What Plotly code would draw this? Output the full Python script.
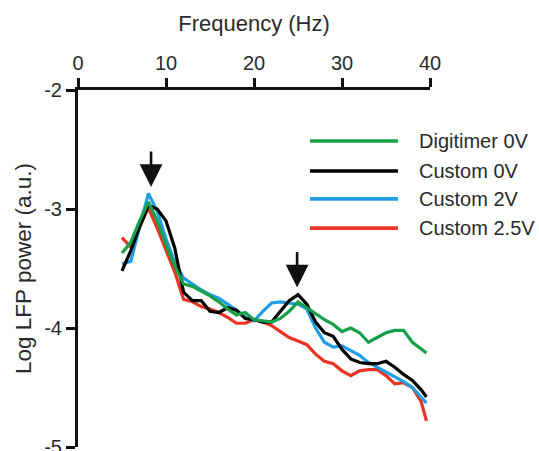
import plotly.graph_objects as go

freq = [5, 6, 7, 8, 9, 10, 11, 12, 13, 14, 15, 16, 17, 18, 19, 20, 21, 22, 23, 24,
        25, 26, 27, 28, 29, 30, 31, 32, 33, 34, 35, 36, 37, 38, 39, 39.6]

digitimer_0v = [-3.37, -3.28, -3.10, -2.94, -3.10, -3.30, -3.48, -3.63, -3.65, -3.69,
                -3.73, -3.78, -3.84, -3.89, -3.87, -3.93, -3.94, -3.95, -3.92, -3.86,
                -3.78, -3.83, -3.88, -3.93, -3.97, -4.03, -4.00, -4.04, -4.12, -4.08,
                -4.04, -4.02, -4.02, -4.12, -4.18, -4.21]

custom_0v = [-3.52, -3.35, -3.15, -2.97, -3.00, -3.10, -3.33, -3.70, -3.77, -3.77,
             -3.86, -3.87, -3.83, -3.85, -3.92, -3.93, -3.95, -3.95, -3.86, -3.77,
             -3.72, -3.80, -3.95, -4.04, -4.07, -4.18, -4.26, -4.29, -4.30, -4.30,
             -4.28, -4.33, -4.39, -4.44, -4.52, -4.58]

custom_2v = [-3.46, -3.44, -3.15, -2.87, -3.02, -3.25, -3.45, -3.58, -3.63, -3.68,
             -3.72, -3.75, -3.80, -3.85, -3.91, -3.94, -3.86, -3.79, -3.78, -3.79,
             -3.80, -3.84, -4.00, -4.12, -4.16, -4.15, -4.19, -4.23, -4.29, -4.33,
             -4.37, -4.41, -4.45, -4.50, -4.58, -4.63]

custom_2_5v = [-3.24, -3.32, -3.15, -2.99, -3.16, -3.34, -3.53, -3.76, -3.78, -3.82,
               -3.84, -3.87, -3.91, -3.96, -3.96, -3.93, -3.95, -3.98, -4.03, -4.08,
               -4.11, -4.14, -4.22, -4.28, -4.30, -4.36, -4.40, -4.36, -4.35, -4.35,
               -4.40, -4.47, -4.46, -4.50, -4.62, -4.78]

series_names = ["Digitimer 0V", "Custom 0V", "Custom 2V", "Custom 2.5V"]
series_values = [digitimer_0v, custom_0v, custom_2v, custom_2_5v]
series_colors = ["#16a04a", "#000000", "#1f9ee3", "#ea3323"]
draw_order = [3, 2, 1, 0]  # red bottom, green on top

xtick_vals = [0, 10, 20, 30, 40]
xtick_labels = ["0", "10", "20", "30", "40"]
ytick_vals = [-5, -4, -3, -2]
ytick_labels = ["-5", "-4", "-3", "-2"]

arrow_x = [8.3, 24.9]
arrow_y = [-2.815, -3.66]

FONT = "Liberation Sans, Arial, sans-serif"

fig = go.Figure()
for i in draw_order:
    fig.add_trace(go.Scatter(x=freq, y=series_values[i], mode="lines",
                             line=dict(color=series_colors[i], width=3.2),
                             name=series_names[i], showlegend=False))

# arrows
for ax_, ay_ in zip(arrow_x, arrow_y):
    fig.add_annotation(x=ax_, y=ay_, xref="x", yref="y", ax=0, ay=-37,
                       showarrow=True, arrowhead=2, arrowsize=1.75, arrowwidth=2.6,
                       arrowcolor="#111111", text="", standoff=0)

# manual legend (long line samples)
legend_y = [0.857, 0.773, 0.695, 0.613]
for name, col, ly in zip(series_names, series_colors, legend_y):
    fig.add_shape(type="line", xref="paper", yref="paper", x0=0.659, x1=0.909,
                  y0=ly, y1=ly, line=dict(color=col, width=3.6))
    fig.add_annotation(xref="paper", yref="paper", x=0.963, y=ly, text=name,
                       showarrow=False, xanchor="left", yanchor="middle",
                       font=dict(family=FONT, size=20, color="#2a2a2a"))

fig.update_layout(
    width=539, height=451,
    margin=dict(l=78, r=109, t=90, b=4),
    paper_bgcolor="white", plot_bgcolor="white",
    font=dict(family=FONT, size=20, color="#2a2a2a"),
    showlegend=False,
)
fig.update_xaxes(
    side="top", range=[0, 40], tickmode="array", tickvals=xtick_vals, ticktext=xtick_labels,
    ticks="outside", ticklen=9, tickwidth=2.5, tickcolor="#111111",
    showline=True, linewidth=3, linecolor="#111111", showgrid=False, zeroline=False,
    title=dict(text="Frequency (Hz)", font=dict(size=22), standoff=15),
    automargin=False, tickfont=dict(size=20), ticklabeloverflow="allow",
)
fig.update_yaxes(
    range=[-5, -2], tickmode="array", tickvals=ytick_vals, ticktext=ytick_labels,
    ticks="outside", ticklen=9, tickwidth=2.5, tickcolor="#111111",
    showline=True, linewidth=3, linecolor="#111111", showgrid=False, zeroline=False,
    title=dict(text="Log LFP power (a.u.)", font=dict(size=22.5), standoff=7),
    automargin=False, tickfont=dict(size=20), ticklabeloverflow="allow",
)

fig.write_html("out.html", config={"displayModeBar": False},
               post_script="document.body.style.margin='0';document.body.style.overflow='hidden';")
